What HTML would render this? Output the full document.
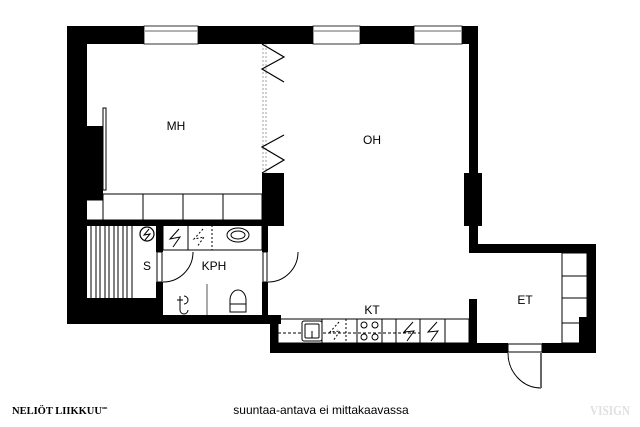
<!DOCTYPE html>
<html><head><meta charset="utf-8"><style>
html,body{margin:0;padding:0;background:#fff;}
svg{display:block;}
text{font-family:"Liberation Sans",sans-serif;}
</style></head><body>
<svg width="640" height="427" viewBox="0 0 640 427" xmlns="http://www.w3.org/2000/svg">
<g fill="#000">
<rect x="67" y="26" width="411" height="18"/>
<rect x="67" y="26" width="20" height="298"/>
<rect x="86" y="126" width="17" height="74"/>
<rect x="469" y="26" width="9" height="227"/>
<rect x="464" y="173" width="18" height="53"/>
<rect x="262" y="173" width="22" height="52"/>
<rect x="86" y="220" width="198" height="6"/>
<rect x="156" y="225" width="7" height="27"/>
<rect x="156" y="282" width="7" height="36"/>
<rect x="67" y="298" width="96" height="26"/>
<rect x="86" y="315" width="195" height="9"/>
<rect x="262" y="225" width="6" height="27"/>
<rect x="262" y="282" width="6" height="37"/>
<rect x="270" y="315" width="8" height="38"/>
<rect x="270" y="343" width="238" height="10"/>
<rect x="542" y="343" width="54" height="10"/>
<rect x="469" y="244" width="127" height="9"/>
<rect x="587" y="244" width="9" height="109"/>
<rect x="579" y="317" width="8" height="26"/>
<rect x="469" y="299" width="8" height="44"/>
</g>
<g fill="#fff" stroke="#000" stroke-width="0.8">
<rect x="144" y="26" width="54" height="18"/>
<rect x="313" y="26" width="47" height="18"/>
<rect x="414" y="26" width="48" height="18"/>
</g>
<g stroke="#999" stroke-width="1.5">
<line x1="145" y1="31" x2="197" y2="31"/>
<line x1="314" y1="31" x2="359" y2="31"/>
<line x1="415" y1="31" x2="461" y2="31"/>
</g>
<g fill="#fff" stroke="#000" stroke-width="1">
<rect x="103" y="194" width="159" height="26"/>
<rect x="86.5" y="200" width="16.5" height="20"/>
<rect x="103" y="108" width="3" height="82"/>
</g>
<g stroke="#000" stroke-width="1">
<line x1="143" y1="194" x2="143" y2="220"/>
<line x1="183" y1="194" x2="183" y2="220"/>
<line x1="223" y1="194" x2="223" y2="220"/>
</g>
<g stroke="#888" stroke-width="0.8" stroke-dasharray="2,2">
<line x1="263" y1="44" x2="263" y2="173"/>
<line x1="266" y1="44" x2="266" y2="173"/>
</g>
<g fill="none" stroke="#000" stroke-width="1.2">
<polyline points="262,44 284,57 262,69 284,82"/>
<polyline points="284,135 262,147 284,160 262,173"/>
</g>
<g stroke="#000" stroke-width="1">
<line x1="91" y1="226" x2="91" y2="298"/><line x1="96" y1="226" x2="96" y2="298"/>
<line x1="100" y1="226" x2="100" y2="298"/><line x1="105" y1="226" x2="105" y2="298"/>
<line x1="109" y1="226" x2="109" y2="298"/><line x1="114" y1="226" x2="114" y2="298"/>
<line x1="118" y1="226" x2="118" y2="298"/><line x1="123" y1="226" x2="123" y2="298"/>
<line x1="127" y1="226" x2="127" y2="298"/><line x1="132" y1="226" x2="132" y2="298"/>
</g>
<circle cx="147" cy="234" r="7" fill="none" stroke="#000" stroke-width="1.2"/>
<polyline points="149,229 144,235 150,234 145,240" fill="none" stroke="#000" stroke-width="1"/>
<g fill="none" stroke="#000" stroke-width="1">
<rect x="163" y="225" width="99" height="25"/>
<line x1="188" y1="225" x2="188" y2="250"/>
<line x1="212" y1="225" x2="212" y2="250" stroke-dasharray="2,2"/>
<polyline points="179,229 170,239 180,237 173,247"/>
<polyline points="203,229 194,239 204,237 197,247" stroke-dasharray="2,2"/>
<ellipse cx="238" cy="235" rx="11" ry="7"/>
<ellipse cx="238" cy="235" rx="7" ry="4"/>
<path d="M193,252 A30,30 0 0 1 163,282"/>
<path d="M298,252 A30,30 0 0 1 268,282"/>
<rect x="157" y="252" width="5" height="30" fill="#fff"/>
<rect x="263" y="252" width="4" height="30" fill="#fff"/>
<path d="M230,312 L230,300 A8,10 0 1 1 246,300 L246,312 Z"/>
<line x1="230" y1="304" x2="246" y2="304"/>
<path d="M184,296 A4,4 0 1 1 184,304 M180,296 L180,310 A4,4 0 0 0 188,310 M177,300 L183,300"/>
</g>
<line x1="207" y1="284" x2="207" y2="315" stroke="#aaa" stroke-width="2"/>
<g fill="none" stroke="#000" stroke-width="1">
<rect x="278" y="319" width="191" height="24"/>
<line x1="278" y1="333" x2="420" y2="333" stroke-dasharray="3,2"/>
<rect x="302" y="321" width="20" height="20" rx="2" fill="#fff"/>
<rect x="305" y="324" width="14" height="14" rx="1"/>
<line x1="312" y1="331" x2="312" y2="338"/>
<line x1="322" y1="319" x2="322" y2="343"/>
<line x1="346" y1="319" x2="346" y2="343" stroke-dasharray="2,2"/>
<line x1="357" y1="319" x2="357" y2="343"/>
<line x1="382" y1="319" x2="382" y2="343"/>
<line x1="396" y1="319" x2="396" y2="343"/>
<line x1="420" y1="319" x2="420" y2="343"/>
<line x1="445" y1="319" x2="445" y2="343"/>
<polyline points="339,322 330,332 340,331 333,341" stroke-dasharray="2,2"/>
<circle cx="364" cy="325" r="3" fill="#fff"/><circle cx="375" cy="325" r="3" fill="#fff"/>
<circle cx="364" cy="337" r="3" fill="#fff"/><circle cx="375" cy="337" r="3" fill="#fff"/>
<polyline points="413,322 404,332 414,331 407,341"/>
<polyline points="437,322 428,332 438,331 431,341"/>
</g>
<g fill="none" stroke="#000" stroke-width="1">
<rect x="562" y="253" width="25" height="90"/>
<line x1="562" y1="276" x2="587" y2="276"/>
<line x1="562" y1="298" x2="587" y2="298"/>
<line x1="562" y1="323" x2="587" y2="323"/>
<rect x="508" y="344" width="34" height="8" fill="#fff"/>
<path d="M508,353 A33,35 0 0 0 541,388"/>
</g>
<line x1="541" y1="353" x2="541" y2="388" stroke="#666" stroke-width="2"/>
<g font-size="12" fill="#000" text-anchor="middle">
<text x="176" y="130">MH</text>
<text x="372" y="144">OH</text>
<text x="147" y="270">S</text>
<text x="214" y="270">KPH</text>
<text x="372" y="314">KT</text>
<text x="525" y="304">ET</text>
</g>
<text x="321" y="414" font-size="12" text-anchor="middle">suuntaa-antava ei mittakaavassa</text>
<text x="12" y="414" font-size="10.5" font-weight="bold" style="font-family:'Liberation Serif',serif">NELIÖT LIIKKUU<tspan font-size="4" dy="-5">om</tspan></text>
<text x="590" y="415" font-size="14" font-weight="bold" fill="#e0e0e0" textLength="40" lengthAdjust="spacingAndGlyphs" style="font-family:'Liberation Serif',serif">VISIGN</text>
</svg>
</body></html>
